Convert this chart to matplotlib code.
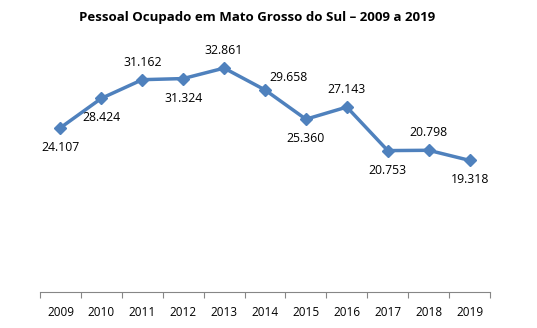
import matplotlib.pyplot as plt
import numpy as np

plt.rcParams['font.family'] = ['Open Sans', 'DejaVu Sans']

anos = ['2009', '2010', '2011', '2012', '2013', '2014', '2015', '2016', '2017', '2018', '2019']
pessoal = [24.107, 28.424, 31.162, 31.324, 32.861, 29.658, 25.360, 27.143, 20.753, 20.798, 19.318]
# posição do rótulo de cada ponto: abaixo, acima ou acima à direita
posicoes = ['below', 'below', 'above', 'below', 'above', 'right', 'below', 'above', 'below', 'above', 'below']

fig = plt.figure(figsize=(5.37, 3.28), dpi=100)
ax = fig.add_axes([0.0745, 0.1098, 0.838, 0.727])

x = np.arange(len(anos))
cor = '#4F81BD'
ax.plot(x, pessoal, color=cor, linewidth=2.5, marker='D', markersize=6, zorder=3)

for xi, v, pos in zip(x, pessoal, posicoes):
    txt = f'{v:.3f}'
    if pos == 'below':
        ax.annotate(txt, (xi, v), xytext=(0, -14), textcoords='offset points',
                    ha='center', va='center', fontsize=8.8)
    elif pos == 'above':
        ax.annotate(txt, (xi, v), xytext=(0, 12.5), textcoords='offset points',
                    ha='center', va='center', fontsize=8.8)
    else:
        ax.annotate(txt, (xi, v), xytext=(17, 9), textcoords='offset points',
                    ha='center', va='center', fontsize=8.8)

ax.set_xlim(-0.5, len(anos) - 0.5)
ax.set_ylim(0, 35)
ax.set_yticks([])
ax.set_xticks(x)
ax.set_xticklabels(anos, fontsize=8.5)
ax.set_xticks(np.arange(-0.5, len(anos)), minor=True)
ax.tick_params(axis='x', which='major', length=0, pad=10)
ax.tick_params(axis='x', which='minor', length=4, color='#868686', width=0.8)
for s in ['top', 'right', 'left']:
    ax.spines[s].set_visible(False)
ax.spines['bottom'].set_color('#868686')
ax.spines['bottom'].set_linewidth(0.8)

fig.text(0.479, 0.947, 'Pessoal Ocupado em Mato Grosso do Sul – 2009 a 2019',
         ha='center', va='center', fontsize=9.5, fontweight='bold')

fig.savefig('out.png', dpi=100)
